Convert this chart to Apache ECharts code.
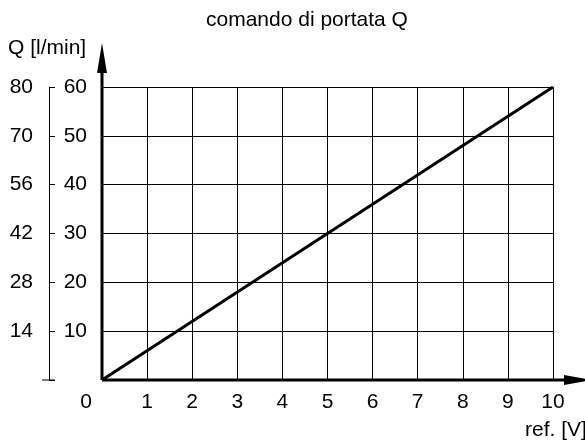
<!DOCTYPE html>
<html>
<head>
<meta charset="utf-8">
<title>comando di portata Q</title>
<style>
  html,body{margin:0;padding:0;background:#fff;}
  #chart{width:585px;height:441px;}
</style>
</head>
<body>
<div id="chart"></div>
<script src="https://cdn.jsdelivr.net/npm/echarts@6/dist/echarts.min.js"></script>
<script>
// segnale di riferimento [V] -> portata
var refV = [0, 10];
var portata = [0, 60];

// etichette assi
var xTicks = ['0', '1', '2', '3', '4', '5', '6', '7', '8', '9', '10'];
var yTicks = ['', '10', '20', '30', '40', '50', '60'];
var qTicks = ['', '14', '28', '42', '56', '70', '80'];

var FONT = 'Liberation Sans, Arial, sans-serif';
var FS = 21;

var myChart = echarts.init(document.getElementById('chart'));
var option = {
    animation: false,
    title: {
        text: 'comando di portata Q',
        left: 201,
        top: 5,
        textStyle: { fontFamily: FONT, fontSize: FS, fontWeight: 'normal', color: '#000' }
    },
    grid: { left: 102, right: 32, top: 87, bottom: 61 },
    xAxis: {
        type: 'value',
        min: 0, max: 10, interval: 1,
        axisLine: { show: false },
        axisTick: { show: false },
        splitLine: { lineStyle: { color: '#000', width: 1 } },
        axisLabel: {
            margin: 12,
            fontFamily: FONT, fontSize: FS, color: '#000',
            formatter: function (v) {
                var s = xTicks[Math.round(v)];
                return v === 0 ? '{z|' + s + '}' : s;
            },
            rich: { z: { fontFamily: FONT, fontSize: FS, color: '#000', padding: [0, 32, 0, 0] } }
        }
    },
    yAxis: [{
        type: 'value',
        min: 0, max: 60, interval: 10,
        axisLine: { show: false },
        axisTick: { show: false },
        splitLine: { lineStyle: { color: '#000', width: 1 } },
        axisLabel: {
            margin: 15,
            fontFamily: FONT, fontSize: FS, color: '#000',
            formatter: function (v) { return yTicks[Math.round(v / 10)]; }
        }
    }, {
        type: 'value',
        position: 'left',
        offset: 53,
        min: 0, max: 60, interval: 10,
        axisLine: { show: true, lineStyle: { color: '#000', width: 1 } },
        axisTick: { show: true, inside: true, length: 6, lineStyle: { color: '#000' } },
        splitLine: { show: false },
        axisLabel: {
            margin: 16,
            fontFamily: FONT, fontSize: FS, color: '#000',
            formatter: function (v) { return qTicks[Math.round(v / 10)]; }
        }
    }],
    series: [{
        type: 'line',
        data: refV.map(function (v, i) { return [v, portata[i]]; }),
        symbol: 'none',
        lineStyle: { color: '#000', width: 3 }
    }]
};
myChart.setOption(option);

// assi con frecce, tacche di estremita' e nomi
var o = myChart.convertToPixel({ xAxisIndex: 0, yAxisIndex: 0 }, [0, 0]);
var top = myChart.convertToPixel({ xAxisIndex: 0, yAxisIndex: 0 }, [0, 60]);
var ax = o[0] - 53;
myChart.setOption({
    graphic: [
        { type: 'line', shape: { x1: o[0], y1: o[1], x2: 566, y2: o[1] }, style: { stroke: '#000', lineWidth: 3 } },
        { type: 'polygon', shape: { points: [[564, o[1] - 5], [592, o[1]], [564, o[1] + 5]] }, style: { fill: '#000' } },
        { type: 'line', shape: { x1: o[0], y1: o[1], x2: o[0], y2: 70 }, style: { stroke: '#000', lineWidth: 3 } },
        { type: 'polygon', shape: { points: [[o[0] - 5, 73], [o[0], 43], [o[0] + 5, 73]] }, style: { fill: '#000' } },
        { type: 'line', shape: { x1: ax - 7, y1: top[1], x2: ax + 6, y2: top[1] }, style: { stroke: '#000', lineWidth: 1 } },
        { type: 'line', shape: { x1: ax - 7, y1: o[1], x2: ax + 6, y2: o[1] }, style: { stroke: '#000', lineWidth: 1 } },
        { type: 'text', left: 8, top: 38, style: { text: 'Q [l/min]', font: FS + 'px ' + FONT, fill: '#000' } },
        { type: 'text', left: 525, top: 420, style: { text: 'ref. [V]', font: FS + 'px ' + FONT, fill: '#000' } }
    ]
});
</script>
</body>
</html>
